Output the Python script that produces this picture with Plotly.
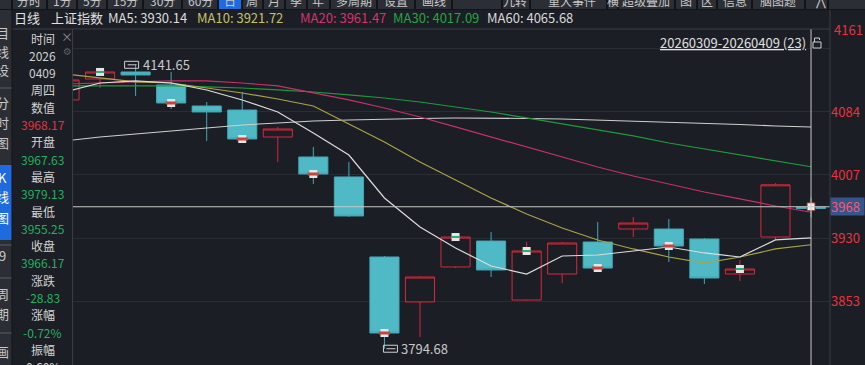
import plotly.graph_objects as go

# ---------------- data ----------------
dates = ["2026-03-10", "2026-03-11", "2026-03-12", "2026-03-13", "2026-03-16", "2026-03-17",
         "2026-03-18", "2026-03-19", "2026-03-20", "2026-03-23", "2026-03-24", "2026-03-25",
         "2026-03-26", "2026-03-27", "2026-03-30", "2026-03-31", "2026-04-01", "2026-04-02",
         "2026-04-03", "2026-04-07", "2026-04-08", "2026-04-09"]
opens = [4098.7, 4124.3, 4132.9, 4117.0, 4091.3, 4086.4, 4053.4, 4029.0, 4004.6, 3906.8, 3851.8,
         3894.6, 3926.3, 3854.2, 3886.0, 3925.1, 3941.0, 3941.0, 3928.8, 3886.0, 3931.2, 3967.63]
highs = [4126.0, 4133.5, 4141.65, 4132.9, 4096.2, 4108.4, 4065.7, 4041.2, 4022.9, 3908.0, 3883.0,
         3933.0, 3937.3, 3925.1, 3925.1, 3949.6, 3955.7, 3953.2, 3930.0, 3903.1, 3997.0, 3979.13]
lows = [4095.0, 4113.3, 4103.6, 4087.7, 4048.6, 4047.0, 4022.9, 3996.0, 3955.7, 3794.68, 3809.0,
        3893.3, 3882.3, 3853.5, 3875.0, 3891.0, 3931.2, 3900.7, 3873.8, 3877.4, 3927.6, 3955.25]
closes = [4123.1, 4132.9, 4129.2, 4095.0, 4084.0, 4051.0, 4063.2, 4008.2, 3956.9, 3813.9, 3882.3,
          3931.2, 3890.9, 3914.1, 3923.9, 3893.3, 3948.3, 3920.2, 3881.1, 3892.1, 3995.00, 3966.17]

ma5 = [4108.4, 4119.4, 4121.9, 4119.4, 4110.9, 4098.7, 4084.0, 4058.3, 4031.4, 3978.9, 3943.4,
       3917.8, 3895.8, 3886.0, 3908.0, 3909.2, 3914.1, 3919.0, 3911.7, 3906.8, 3927.6, 3930.14]
ma10 = [4130.4, 4125.6, 4120.7, 4119.4, 4113.3, 4107.2, 4099.9, 4091.3, 4069.3, 4047.3, 4022.9,
        4000.9, 3978.9, 3959.3, 3942.2, 3927.6, 3916.6, 3906.8, 3899.4, 3906.8, 3916.6, 3921.72]
ma20 = [4118.2, 4119.4, 4120.7, 4121.9, 4121.9, 4119.4, 4115.8, 4107.2, 4098.7, 4088.9, 4077.9,
        4065.7, 4053.4, 4041.2, 4029.0, 4016.8, 4005.8, 3996.0, 3986.2, 3977.7, 3969.1, 3961.47]
ma30 = [4115.8, 4115.8, 4115.8, 4115.8, 4114.6, 4113.3, 4110.9, 4108.4, 4104.8, 4101.1, 4096.2,
        4090.1, 4084.0, 4076.7, 4069.3, 4062.0, 4054.7, 4046.1, 4038.8, 4031.4, 4024.1, 4017.09]
ma60 = [4048.6, 4053.4, 4057.1, 4060.8, 4064.4, 4068.1, 4070.6, 4073.0, 4074.2, 4075.4, 4076.1,
        4076.7, 4076.7, 4076.1, 4075.4, 4074.2, 4073.0, 4071.8, 4070.6, 4068.7, 4066.9, 4065.68]

price_ticks = [3853, 3930, 4007, 4084, 4161]
cursor_value = 3968.17
up_events = [1, 11, 13, 19]
down_events = [3, 5, 7, 9, 15, 17]

ma_labels = [("MA5: 3930.14", "#dcdcdc"), ("MA10: 3921.72", "#c9c266"), ("MA20: 3961.47", "#d6336e"),
             ("MA30: 4017.09", "#25a543"), ("MA60: 4065.68", "#d8d8d8")]
info_rows = [("时间", "w"), ("2026", "w"), ("0409", "w"), ("周四", "w"), ("数值", "w"), ("3968.17", "r"),
             ("开盘", "w"), ("3967.63", "g"), ("最高", "w"), ("3979.13", "g"), ("最低", "w"),
             ("3955.25", "g"), ("收盘", "w"), ("3966.17", "g"), ("涨跌", "w"), ("-28.83", "g"),
             ("涨幅", "w"), ("-0.72%", "g"), ("振幅", "w"), ("0.60%", "w")]
toolbar = [("分时", 29), ("1分", 62), ("5分", 92), ("15分", 125), ("30分", 162), ("60分", 200),
           ("日", 230), ("周", 252), ("月", 274), ("季", 296), ("年", 318), ("多周期", 354),
           ("设置", 396), ("画线", 434), ("九转", 515), ("重大事件", 572), ("横", 613),
           ("超级叠加", 646), ("图", 686), ("区", 707), ("信息", 735), ("脑图题", 778), ("⋀", 820)]
range_label = "20260309-20260409 (23)"

# ---------------- style ----------------
BG = "#1b1e24"
RED = "#d7283e"
CYAN = "#4fb9c5"
CYAN_LINE = "#43a9b5"
GRID = "#2a2d34"
FONT = "Noto Sans CJK SC, Liberation Sans, sans-serif"
L, T, R_EDGE, B_EDGE = 73, 29, 830, 365


def fx(px):
    return (px - L) / (R_EDGE - L)


def fy(py):
    return (B_EDGE - py) / (B_EDGE - T)


idx = list(range(len(dates)))

fig = go.Figure()
fig.add_trace(go.Candlestick(
    x=idx, open=opens, high=highs, low=lows, close=closes, text=dates,
    increasing=dict(line=dict(color=RED, width=1), fillcolor="rgba(0,0,0,0)"),
    decreasing=dict(line=dict(color=CYAN_LINE, width=1), fillcolor=CYAN),
    whiskerwidth=0, showlegend=False, hoverinfo="skip"))

for ma, col, w in [(ma60, "#cfcfcf", 1.1), (ma30, "#1f9a3c", 1.2), (ma20, "#c8306a", 1.2),
                   (ma10, "#a9a446", 1.2), (ma5, "#dcdcdc", 1.2)]:
    fig.add_trace(go.Scatter(x=idx, y=ma, mode="lines", line=dict(color=col, width=w),
                             showlegend=False, hoverinfo="skip"))

# event markers
fig.add_trace(go.Scatter(x=up_events, y=[closes[i] for i in up_events], mode="markers",
                         marker=dict(symbol="square", size=8, color="#e6e6e6"),
                         showlegend=False, hoverinfo="skip"))
fig.add_trace(go.Scatter(x=up_events, y=[closes[i] for i in up_events], mode="markers",
                         marker=dict(symbol="line-ew", size=6, line=dict(color="#22b07a", width=2)),
                         showlegend=False, hoverinfo="skip"))
fig.add_trace(go.Scatter(x=down_events, y=[closes[i] for i in down_events], mode="markers",
                         marker=dict(symbol="square", size=8, color="#e6e6e6"),
                         showlegend=False, hoverinfo="skip"))
fig.add_trace(go.Scatter(x=down_events, y=[closes[i] for i in down_events], mode="markers",
                         marker=dict(symbol="line-ew", size=8, line=dict(color="#c0463e", width=3)),
                         showlegend=False, hoverinfo="skip"))

last = idx[-1]
shapes = []
# crosshair
shapes.append(dict(type="line", xref="x", yref="paper", x0=last, x1=last, y0=0, y1=1,
                   line=dict(color="#c8c8c8", width=1)))
shapes.append(dict(type="line", xref="paper", yref="y", x0=0, x1=1, y0=cursor_value, y1=cursor_value,
                   line=dict(color="#c8c8c8", width=1)))
# borders
shapes.append(dict(type="line", xref="paper", yref="paper", x0=fx(12), x1=1, y0=1, y1=1,
                   line=dict(color="#3a3d45", width=1)))
shapes.append(dict(type="line", xref="paper", yref="paper", x0=1, x1=1, y0=0, y1=fy(9),
                   line=dict(color="#3a3d45", width=1)))
shapes.append(dict(type="line", xref="paper", yref="paper", x0=fx(72.5), x1=fx(72.5), y0=0, y1=fy(29),
                   line=dict(color="#3a3d45", width=1)))
# toolbar
shapes.append(dict(type="rect", xref="paper", yref="paper", x0=fx(0), x1=fx(865), y0=fy(9), y1=fy(0),
                   fillcolor="#2b2e35", line=dict(width=0), layer="below"))
shapes.append(dict(type="rect", xref="paper", yref="paper", x0=fx(219), x1=fx(241), y0=fy(9), y1=fy(0),
                   fillcolor="#1e6be0", line=dict(width=0), layer="below"))
for sx in [12, 47, 77, 107, 143, 182, 218, 242, 263, 285, 307, 330, 377, 415, 452, 502, 530,
           607, 618, 675, 697, 717, 752, 805, 828]:
    shapes.append(dict(type="line", xref="paper", yref="paper", x0=fx(sx), x1=fx(sx), y0=fy(9), y1=fy(0),
                       line=dict(color="#121418", width=2)))
shapes.append(dict(type="line", xref="paper", yref="paper", x0=fx(0), x1=fx(865), y0=fy(9.5), y1=fy(9.5),
                   line=dict(color="#121418", width=1)))
# left sidebar
shapes.append(dict(type="rect", xref="paper", yref="paper", x0=fx(0), x1=fx(12), y0=0, y1=fy(10),
                   fillcolor="#2b2e35", line=dict(width=0), layer="below"))
shapes.append(dict(type="rect", xref="paper", yref="paper", x0=fx(0), x1=fx(12), y0=fy(240), y1=fy(165),
                   fillcolor="#1e6be0", line=dict(width=0), layer="below"))
for sy in [88, 245, 278, 333]:
    shapes.append(dict(type="line", xref="paper", yref="paper", x0=fx(0), x1=fx(12), y0=fy(sy), y1=fy(sy),
                       line=dict(color="#5a5d64", width=1)))
shapes.append(dict(type="line", xref="paper", yref="paper", x0=fx(12), x1=fx(12), y0=0, y1=fy(10),
                   line=dict(color="#121418", width=1)))
# icons for extreme labels
for xi, yv, a, b in [(2, highs[2], -11, 3), (9, lows[9], -1, 13)]:
    shapes.append(dict(type="rect", xref="x", yref="y", xsizemode="pixel", ysizemode="pixel",
                       xanchor=xi, yanchor=yv, x0=a, x1=b, y0=-3.5, y1=3.5,
                       line=dict(color="#d0d0d0", width=1), fillcolor="rgba(0,0,0,0)"))
    shapes.append(dict(type="line", xref="x", yref="y", xsizemode="pixel", ysizemode="pixel",
                       xanchor=xi, yanchor=yv, x0=a + 3, x1=b - 2, y0=0, y1=0,
                       line=dict(color="#d0d0d0", width=1)))
# lock icon
shapes.append(dict(type="rect", xref="paper", yref="paper", x0=fx(813), x1=fx(821), y0=fy(48), y1=fy(42),
                   line=dict(color="#cfcfcf", width=1), fillcolor="rgba(0,0,0,0)"))
shapes.append(dict(type="path", xref="paper", yref="paper",
                   path=f"M {fx(814.5)} {fy(42)} L {fx(814.5)} {fy(38)} L {fx(819.5)} {fy(38)} L {fx(819.5)} {fy(40)}",
                   line=dict(color="#cfcfcf", width=1)))

ann = []
# header
ann.append(dict(text="日线", x=fx(12.5), y=fy(17.5), xref="paper", yref="paper", xanchor="left",
                yanchor="middle", showarrow=False, font=dict(color="#e0e0e0", size=13, family=FONT)))
ann.append(dict(text="上证指数", x=fx(49), y=fy(17.5), xref="paper", yref="paper", xanchor="left",
                yanchor="middle", showarrow=False, font=dict(color="#e0e0e0", size=13, family=FONT)))
for (txt, col), px in zip(ma_labels, [106, 195, 298, 391, 485]):
    ann.append(dict(text=txt, x=fx(px), y=fy(17.5), xref="paper", yref="paper", xanchor="left",
                    yanchor="middle", showarrow=False, font=dict(color=col, size=13, family=FONT)))
# toolbar labels (clipped at top, as in the reference)
for txt, cx in toolbar:
    ann.append(dict(text=txt, x=fx(cx), y=fy(0), xref="paper", yref="paper", xanchor="center",
                    yanchor="middle", showarrow=False, font=dict(color="#c8c8c8", size=12, family=FONT)))
# sidebar labels
for txt, cy, col in [("目", 33, "#c8c8c8"), ("线", 52, "#c8c8c8"), ("设", 69, "#c8c8c8"),
                     ("分", 102, "#c8c8c8"), ("时", 122, "#c8c8c8"), ("图", 142, "#c8c8c8"),
                     ("K", 177, "#ffffff"), ("线", 196, "#ffffff"), ("图", 217, "#ffffff"),
                     ("9", 255, "#c8c8c8"), ("周", 293, "#c8c8c8"), ("期", 313, "#c8c8c8"),
                     ("画", 351, "#c8c8c8")]:
    ann.append(dict(text=txt, x=fx(2.5), y=fy(cy), xref="paper", yref="paper", xanchor="center",
                    yanchor="middle", showarrow=False, borderpad=0,
                    font=dict(color=col, size=13, family=FONT)))
# info panel
colmap = {"w": "#d2d2d2", "r": "#e8323f", "g": "#24b160"}
for k, (txt, c) in enumerate(info_rows):
    ann.append(dict(text=txt, x=fx(42.5), y=fy(38 + 17.3 * k), xref="paper", yref="paper",
                    xanchor="center", yanchor="middle", showarrow=False, borderpad=0,
                    font=dict(color=colmap[c], size=12, family=FONT)))
ann.append(dict(text="×", x=fx(67), y=fy(36), xref="paper", yref="paper", xanchor="center",
                yanchor="middle", showarrow=False, borderpad=0,
                font=dict(color="#8a8a8a", size=12, family=FONT)))
ann.append(dict(text="⚙", x=fx(67), y=fy(52), xref="paper", yref="paper", xanchor="center",
                yanchor="middle", showarrow=False, borderpad=0,
                font=dict(color="#5a5d64", size=10, family="DejaVu Sans")))
# price axis top label and cursor box
ann.append(dict(text=str(price_ticks[-1]), x=1, y=1, xref="paper", yref="paper", xanchor="left",
                xshift=2, yanchor="middle", showarrow=False,
                font=dict(color="#e8323f", size=13, family=FONT)))
ann.append(dict(text=f"{cursor_value:.0f}", x=1, y=cursor_value, xref="paper", yref="y", xanchor="left",
                yanchor="middle", showarrow=False, bgcolor="#34568c", width=33, height=17, align="left",
                borderpad=0, font=dict(color="#ff5566", size=13, family=FONT)))
# range label
ann.append(dict(text=f"<u>{range_label}</u>", x=fx(808), y=fy(43), xref="paper", yref="paper",
                xanchor="right", yanchor="middle", showarrow=False,
                font=dict(color="#e0e0e0", size=13, family=FONT)))
# extreme labels
ann.append(dict(text=f"{highs[2]:.2f}", x=2, y=highs[2], xref="x", yref="y", xanchor="left",
                xshift=5, yanchor="middle", showarrow=False,
                font=dict(color="#c8c8c8", size=13, family=FONT)))
ann.append(dict(text=f"{lows[9]:.2f}", x=9, y=lows[9], xref="x", yref="y", xanchor="left",
                xshift=15, yanchor="middle", showarrow=False,
                font=dict(color="#c8c8c8", size=13, family=FONT)))

# cursor marker
fig.add_trace(go.Scatter(x=[last], y=[cursor_value], mode="markers",
                         marker=dict(symbol="square", size=8, color="#e8f4ee", line=dict(color="#8a2a2a", width=1)),
                         showlegend=False, hoverinfo="skip"))

fig.update_layout(
    width=865, height=365,
    margin=dict(l=L, r=865 - R_EDGE, t=T, b=0),
    paper_bgcolor=BG, plot_bgcolor=BG,
    shapes=shapes, annotations=ann,
    boxgap=0.1, boxgroupgap=0.09,
    xaxis=dict(range=[0.239, 21.534], visible=False, rangeslider=dict(visible=False),
               showgrid=False, zeroline=False),
    yaxis=dict(side="right", range=[3774.8, 4185.4], tickvals=price_ticks,
               ticktext=[str(v) for v in price_ticks[:-1]] + [""],
               showgrid=True, gridcolor=GRID, gridwidth=1, zeroline=False, showline=False,
               ticks="", tickfont=dict(color="#e8323f", size=13, family=FONT)),
    font=dict(family=FONT),
    hovermode=False,
)

fig.write_html("out.html", config={"displayModeBar": False},
               post_script="document.body.style.margin='0';document.body.style.overflow='hidden';")
